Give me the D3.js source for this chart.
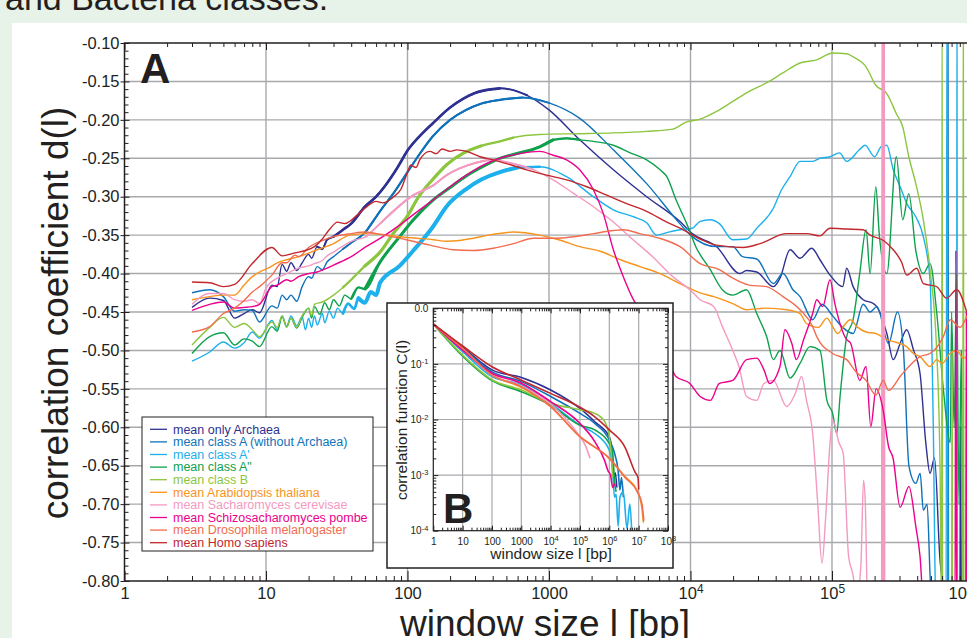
<!DOCTYPE html>
<html lang="en">
<head>
<meta charset="UTF-8">
<title>correlation coefficient d(l)</title>
<script src="https://d3js.org/d3.v7.min.js"></script>
<style>
  body { margin: 0; background: #e7f2e9; }
  svg { display: block; font-family: "Liberation Sans", Arial, Helvetica, sans-serif; }
</style>
</head>
<body>
<svg id="chart" width="967" height="638"></svg>
<script>
// ---- data ----
const windowTicks = [1, 10, 100, 1000, 1e4, 1e5, 1e6];
const dTicks = [-0.10, -0.15, -0.20, -0.25, -0.30, -0.35, -0.40, -0.45, -0.50, -0.55, -0.60, -0.65, -0.70, -0.75, -0.80];
const insetXTicks = [1, 10, 100, 1000, 1e4, 1e5, 1e6, 1e7, 1e8];
const insetYTicks = [1e-4, 1e-3, 1e-2, 1e-1, 1];

const legendLabels = [
  'mean only Archaea', 'mean class A (without Archaea)', "mean class A'", 'mean class A"', 'mean class B',
  'mean Arabidopsis thaliana', 'mean Sacharomyces cerevisae', 'mean Schizosacharomyces pombe',
  'mean Drosophila melanogaster', 'mean Homo sapiens'
];
const colors = ['#2e3192', '#0f72ba', '#1cb0ec', '#0ea14d', '#8cc63f', '#f7941d', '#f49ac1', '#ec008c', '#f26d50', '#c1272d'];

// panel A: d(l) per window size l
const dArchaea = [[3,-0.444],[4,-0.432],[5,-0.435],[6,-0.458],[7,-0.452],[8,-0.447],[9,-0.451],[11,-0.415],[12,-0.417],[13,-0.388],[14,-0.397],[15,-0.386],[16.5,-0.396],[18,-0.386],[20,-0.375],[21,-0.38],[23,-0.365],[25,-0.368],[27,-0.356],[30,-0.352],[35,-0.343],[40,-0.335],[50,-0.313],[60,-0.300],[70,-0.285],[85,-0.262],[100,-0.240],[130,-0.216],[150,-0.205],[200,-0.184],[250,-0.172],[300,-0.165],[400,-0.160],[450,-0.159],[550,-0.161],[700,-0.168],[1000,-0.187],[1650,-0.226],[2850,-0.265],[4900,-0.300],[8400,-0.332],[10300,-0.348],[15300,-0.365],[22400,-0.400],[24900,-0.396],[29400,-0.398],[38500,-0.417],[42900,-0.406],[50500,-0.369],[59400,-0.380],[71900,-0.367],[82200,-0.382],[96800,-0.402],[119000,-0.417],[127000,-0.393],[141000,-0.417],[166000,-0.434],[196000,-0.439],[207000,-0.443],[244000,-0.478],[271000,-0.512],[303000,-0.491],[337000,-0.473],[376000,-0.499],[419000,-0.530],[460000,-0.620],[493000,-0.660],[530000,-0.640],[580000,-0.773],[640000,-0.820],[800000,-0.850],[810000,-0.600],[820000,-0.850]];
const dClassA = [[3,-0.425],[4,-0.421],[5,-0.430],[6,-0.449],[7,-0.447],[8,-0.448],[9,-0.463],[11,-0.442],[12,-0.445],[13,-0.428],[14,-0.434],[15,-0.428],[16.5,-0.436],[18,-0.417],[20,-0.404],[21,-0.406],[23,-0.391],[25,-0.395],[27,-0.385],[30,-0.378],[35,-0.368],[40,-0.360],[50,-0.347],[65,-0.317],[80,-0.295],[100,-0.268],[130,-0.237],[150,-0.222],[200,-0.200],[260,-0.187],[330,-0.179],[450,-0.174],[650,-0.171],[1000,-0.178],[1650,-0.198],[2850,-0.239],[4900,-0.283],[8400,-0.335],[10000,-0.350],[15300,-0.365],[19900,-0.365],[23300,-0.378],[29400,-0.381],[38500,-0.413],[45000,-0.400],[53000,-0.421],[59400,-0.430],[73000,-0.460],[85000,-0.440],[101000,-0.455],[119000,-0.470],[141000,-0.478],[166000,-0.440],[186000,-0.450],[208000,-0.443],[251000,-0.491],[290000,-0.450],[320000,-0.500],[350000,-0.651],[391000,-0.673],[420000,-0.660],[442000,-0.708],[470000,-0.700],[500000,-0.810],[655000,-0.850],[660000,0],[666000,-0.850]];
const dClassA1 = [[3,-0.514],[4,-0.502],[5,-0.489],[6,-0.497],[7,-0.490],[8,-0.476],[9,-0.484],[11,-0.461],[12,-0.473],[13,-0.455],[14,-0.469],[15,-0.455],[16.5,-0.468],[18,-0.456],[19,-0.473],[20,-0.458],[21,-0.470],[22,-0.455],[23,-0.467],[25,-0.452],[26,-0.464],[28,-0.449],[30,-0.458],[32,-0.445],[35,-0.452],[38,-0.439],[42,-0.446],[45,-0.432],[50,-0.438],[55,-0.424],[60,-0.428],[64,-0.412],[88,-0.390],[110,-0.370],[150,-0.340],[190,-0.312],[260,-0.290],[330,-0.278],[450,-0.268],[600,-0.262],[860,-0.261],[1330,-0.274],[2060,-0.300],[2850,-0.317],[3930,-0.326],[4900,-0.334],[5780,-0.350],[7000,-0.346],[8430,-0.343],[10300,-0.341],[11700,-0.332],[13800,-0.330],[16000,-0.335],[19900,-0.356],[24900,-0.355],[29400,-0.341],[38500,-0.315],[44000,-0.291],[50500,-0.274],[59400,-0.254],[73000,-0.254],[82200,-0.250],[96800,-0.248],[113000,-0.243],[127000,-0.254],[156000,-0.239],[171000,-0.233],[200000,-0.248],[222000,-0.235],[244000,-0.233],[271000,-0.265],[303000,-0.287],[340000,-0.310],[391000,-0.326],[442000,-0.352],[493000,-0.408],[520000,-0.600],[540000,-0.820],[640000,-0.850],[650000,0],[660000,-0.850],[760000,-0.850],[764000,0],[770000,-0.850]];
const dClassA2 = [[3,-0.504],[4,-0.482],[5,-0.477],[6,-0.493],[7,-0.485],[8,-0.488],[9,-0.495],[11,-0.469],[12,-0.475],[13,-0.456],[14,-0.469],[15,-0.458],[16.5,-0.471],[18,-0.457],[20,-0.445],[21,-0.458],[22,-0.443],[24,-0.453],[26,-0.438],[28,-0.447],[30,-0.434],[33,-0.442],[36,-0.428],[40,-0.433],[45,-0.418],[50,-0.420],[64,-0.385],[88,-0.352],[110,-0.330],[150,-0.305],[200,-0.288],[260,-0.273],[330,-0.262],[450,-0.250],[560,-0.245],[860,-0.235],[1070,-0.226],[1330,-0.224],[1650,-0.226],[2060,-0.228],[2850,-0.233],[3750,-0.243],[4900,-0.252],[6100,-0.265],[6800,-0.274],[7900,-0.304],[9400,-0.335],[10900,-0.365],[13800,-0.395],[16800,-0.421],[19900,-0.428],[24900,-0.421],[29400,-0.452],[34500,-0.482],[38500,-0.512],[42900,-0.500],[50500,-0.536],[59400,-0.517],[69900,-0.495],[82200,-0.500],[92000,-0.565],[101000,-0.582],[108000,-0.608],[114000,-0.560],[127000,-0.482],[141000,-0.460],[157000,-0.400],[174000,-0.343],[186000,-0.400],[204000,-0.287],[216000,-0.350],[244000,-0.400],[285000,-0.248],[316000,-0.330],[349000,-0.296],[391000,-0.370],[442000,-0.400],[493000,-0.387],[549000,-0.450],[612000,-0.550],[686000,-0.620],[700000,-0.450],[730000,-0.600],[760000,-0.400],[790000,-0.700],[820000,-0.500],[850000,-0.820]];
const dClassB = [[3,-0.493],[4,-0.470],[5,-0.457],[6,-0.470],[7,-0.465],[8,-0.473],[9,-0.482],[11,-0.463],[12,-0.470],[13,-0.455],[14,-0.470],[15,-0.458],[16.5,-0.470],[18,-0.455],[20,-0.445],[21,-0.455],[22,-0.440],[25,-0.437],[30,-0.428],[35,-0.418],[40,-0.408],[50,-0.390],[64,-0.372],[80,-0.347],[100,-0.325],[120,-0.300],[150,-0.278],[190,-0.258],[250,-0.243],[330,-0.234],[450,-0.228],[560,-0.223],[860,-0.219],[1650,-0.218],[2850,-0.217],[4900,-0.215],[7500,-0.212],[9300,-0.203],[11700,-0.199],[15300,-0.189],[19900,-0.176],[26000,-0.163],[34400,-0.152],[45000,-0.139],[59400,-0.126],[78000,-0.122],[101000,-0.113],[127000,-0.114],[141000,-0.118],[174000,-0.131],[204000,-0.155],[244000,-0.166],[285000,-0.192],[316000,-0.209],[349000,-0.248],[391000,-0.283],[442000,-0.330],[493000,-0.395],[549000,-0.500],[580000,-0.650],[596000,-0.850],[600000,0],[604000,-0.850],[700000,-0.850],[706000,-0.500],[712000,-0.850],[840000,-0.850],[847000,0],[855000,-0.850]];
const dArabidopsis = [[3,-0.434],[4,-0.430],[5,-0.428],[6,-0.428],[7,-0.415],[8,-0.404],[9,-0.398],[10.6,-0.392],[12,-0.386],[14,-0.382],[17,-0.378],[23,-0.369],[30,-0.361],[39,-0.350],[51,-0.348],[67,-0.349],[88,-0.352],[116,-0.354],[152,-0.356],[189,-0.358],[233,-0.357],[292,-0.354],[400,-0.349],[560,-0.346],[860,-0.350],[1170,-0.356],[1650,-0.365],[2300,-0.371],[3200,-0.382],[4400,-0.391],[6100,-0.400],[8400,-0.413],[11700,-0.425],[14600,-0.430],[19900,-0.439],[24900,-0.447],[34400,-0.445],[48000,-0.447],[59400,-0.452],[66000,-0.465],[80000,-0.470],[92000,-0.458],[101000,-0.469],[110000,-0.478],[119000,-0.470],[135000,-0.460],[150000,-0.469],[174000,-0.476],[204000,-0.478],[244000,-0.486],[290000,-0.490],[337000,-0.495],[376000,-0.504],[419000,-0.508],[493000,-0.521],[549000,-0.512],[600000,-0.517],[680000,-0.504],[760000,-0.500],[850000,-0.510],[950000,-0.505]];
const dCerevisiae = [[3,-0.440],[4,-0.426],[5,-0.426],[6,-0.434],[7,-0.436],[8,-0.434],[9,-0.439],[10,-0.419],[12,-0.406],[14,-0.400],[17,-0.393],[20,-0.390],[22,-0.387],[25,-0.383],[27,-0.377],[30,-0.372],[33,-0.367],[40,-0.358],[51,-0.352],[64,-0.335],[110,-0.298],[150,-0.286],[189,-0.272],[290,-0.257],[390,-0.252],[560,-0.257],[780,-0.265],[1070,-0.278],[1500,-0.296],[2060,-0.313],[2850,-0.333],[3930,-0.356],[5400,-0.378],[7500,-0.404],[9900,-0.421],[11700,-0.434],[14600,-0.443],[16800,-0.469],[19900,-0.500],[22000,-0.521],[24900,-0.560],[29400,-0.565],[33000,-0.543],[38500,-0.539],[47900,-0.573],[55000,-0.556],[61000,-0.534],[66000,-0.565],[73000,-0.608],[79000,-0.695],[85000,-0.777],[90000,-0.720],[96800,-0.621],[101000,-0.590],[112000,-0.620],[120000,-0.634],[131000,-0.768],[140000,-0.790],[150000,-0.820],[160000,-0.780],[167000,-0.669],[172000,-0.700],[178000,-0.820],[224000,-0.850],[226000,0],[228000,-0.850],[230000,0],[232000,-0.850],[234000,0],[236000,-0.850]];
const dPombe = [[3,-0.448],[4,-0.440],[5,-0.437],[6,-0.445],[7,-0.444],[8,-0.443],[9,-0.440],[11,-0.417],[12,-0.415],[14,-0.408],[15,-0.410],[17,-0.404],[20,-0.400],[23,-0.398],[27,-0.393],[30,-0.389],[40,-0.378],[51,-0.365],[67,-0.352],[88,-0.337],[116,-0.320],[152,-0.304],[200,-0.287],[261,-0.272],[343,-0.259],[450,-0.250],[620,-0.244],[860,-0.241],[1070,-0.246],[1330,-0.252],[1650,-0.265],[2060,-0.291],[2420,-0.322],[2850,-0.369],[3350,-0.404],[3900,-0.432],[4400,-0.450],[4900,-0.478],[5800,-0.504],[6800,-0.512],[7900,-0.534],[9900,-0.543],[11700,-0.560],[13800,-0.565],[16000,-0.543],[19900,-0.539],[24900,-0.512],[29400,-0.510],[33000,-0.525],[36200,-0.543],[42900,-0.521],[46500,-0.473],[52000,-0.491],[56000,-0.512],[63000,-0.486],[73000,-0.452],[78000,-0.434],[86000,-0.443],[96800,-0.408],[105000,-0.440],[127000,-0.486],[135000,-0.490],[157000,-0.539],[174000,-0.521],[188000,-0.599],[205000,-0.550],[230000,-0.578],[251000,-0.625],[270000,-0.640],[303000,-0.704],[350000,-0.677],[391000,-0.729],[419000,-0.768],[440000,-0.820],[740000,-0.850],[750000,-0.370],[760000,-0.850],[880000,-0.850],[890000,-0.450],[900000,-0.850]];
const dDrosophila = [[3,-0.476],[4,-0.469],[5,-0.452],[6,-0.445],[7,-0.435],[8,-0.424],[9,-0.417],[11,-0.402],[13,-0.386],[14,-0.386],[16,-0.376],[17,-0.378],[20,-0.366],[25,-0.357],[30,-0.352],[40,-0.348],[50,-0.346],[60,-0.348],[98,-0.356],[144,-0.363],[210,-0.369],[292,-0.370],[404,-0.367],[560,-0.361],[780,-0.354],[1070,-0.354],[1490,-0.352],[2060,-0.348],[2850,-0.344],[3360,-0.343],[4370,-0.348],[6040,-0.354],[8430,-0.365],[11700,-0.387],[16000,-0.395],[19900,-0.406],[26000,-0.415],[34400,-0.417],[45000,-0.430],[59400,-0.447],[73000,-0.469],[78000,-0.482],[101000,-0.504],[127000,-0.512],[148000,-0.528],[174000,-0.539],[204000,-0.558],[230000,-0.539],[251000,-0.552],[303000,-0.534],[349000,-0.521],[419000,-0.508],[493000,-0.504],[612000,-0.482],[686000,-0.460],[803000,-0.470],[900000,-0.455]];
const dHomo = [[3,-0.411],[4,-0.412],[5,-0.417],[6,-0.414],[8,-0.387],[11,-0.366],[13,-0.377],[16,-0.373],[19,-0.370],[22,-0.365],[25,-0.355],[28,-0.343],[32,-0.333],[36,-0.335],[44,-0.324],[50,-0.315],[60,-0.306],[67,-0.308],[80,-0.300],[90,-0.290],[100,-0.268],[105,-0.259],[115,-0.262],[122,-0.252],[144,-0.241],[160,-0.244],[175,-0.238],[200,-0.241],[223,-0.239],[262,-0.241],[325,-0.248],[404,-0.252],[502,-0.257],[696,-0.265],[963,-0.272],[1334,-0.278],[1850,-0.287],[2560,-0.298],[3540,-0.309],[4900,-0.319],[6790,-0.333],[8430,-0.341],[11700,-0.355],[15300,-0.363],[23600,-0.366],[31000,-0.361],[47900,-0.348],[66200,-0.348],[82200,-0.351],[96700,-0.341],[127000,-0.342],[166000,-0.343],[186000,-0.350],[231000,-0.357],[271000,-0.369],[310000,-0.385],[337000,-0.402],[397000,-0.393],[442000,-0.413],[549000,-0.417],[646000,-0.432],[761000,-0.421],[895000,-0.450]];

// panel B: correlation function C(l)
const cArchaea = [[1,0.52],[10,0.20],[100,0.078],[1000,0.057],[1e4,0.034],[1e5,0.0158],[3.2e5,0.0091],[1e6,0.0049],[1.2e6,0.003],[1.4e6,0.0009],[1.6e6,0.0011],[1.8e6,0.0006]];
const cClassA = [[1,0.52],[10,0.19],[100,0.072],[1000,0.048],[1e4,0.026],[1e5,0.0129],[3.2e5,0.0085],[1e6,0.0043],[1.5e6,0.0025],[2e6,0.0012],[2.3e6,0.00054],[2.6e6,0.0009],[3e6,0.0004]];
const cClassA1 = [[1,0.52],[10,0.166],[100,0.059],[1000,0.042],[1e4,0.0195],[1e5,0.0079],[3.2e5,0.0056],[1e6,0.0028],[1.3e6,0.0012],[1.5e6,0.0004],[1.7e6,0.00045],[2e6,0.00012],[2.3e6,0.0004],[3e6,0.0005],[4e6,0.00011],[5e6,0.0003],[5.8e6,0.0001]];
const cClassA2 = [[1,0.52],[10,0.138],[100,0.050],[1000,0.0316],[1e4,0.018],[1e5,0.0079],[3.2e5,0.0065],[1e6,0.0037],[1.3e6,0.0025],[1.5e6,0.0008],[1.7e6,0.0005]];
const cClassB = [[1,0.52],[10,0.144],[100,0.052],[1000,0.034],[1e4,0.0195],[1e5,0.015],[3.2e5,0.0129],[7e5,0.0091],[1e6,0.0049],[1.2e6,0.002],[1.3e6,0.0009]];
const cArabidopsis = [[1,0.52],[10,0.19],[100,0.063],[1000,0.038],[1e4,0.017],[1e5,0.0049],[1e6,0.002],[3.5e6,0.00093],[8.7e6,0.00054],[1.3e7,0.00025],[1.45e7,0.00014]];
const cCerevisiae = [[1,0.52],[10,0.18],[100,0.063],[1000,0.040],[1e4,0.019],[1e5,0.0049],[1.5e5,0.0035],[2.2e5,0.002]];
const cPombe = [[1,0.52],[10,0.177],[100,0.068],[1000,0.045],[1e4,0.021],[1e5,0.0085],[3.2e5,0.004],[7e5,0.0018],[9e5,0.0012],[1.1e6,0.001],[1.3e6,0.0006],[1.5e6,0.0007]];
const cDrosophila = [[1,0.52],[10,0.19],[100,0.063],[1000,0.039],[1e4,0.017],[1e5,0.0049],[1e6,0.002],[3.5e6,0.0009],[9e6,0.0005],[1.3e7,0.0003],[1.5e7,0.00015]];
const cHomo = [[1,0.52],[10,0.21],[100,0.089],[1000,0.051],[1e4,0.0295],[1e5,0.0166],[3.2e5,0.0112],[1e6,0.0065],[3.4e6,0.0032],[7.4e6,0.00115],[9.5e6,0.0009],[1e7,0.00055]];

const dSeries = [dArchaea, dClassA, dClassA1, dClassA2, dClassB, dArabidopsis, dCerevisiae, dPombe, dDrosophila, dHomo];
const cSeries = [cArchaea, cClassA, cClassA1, cClassA2, cClassB, cArabidopsis, cCerevisiae, cPombe, cDrosophila, cHomo];

// the fast zigzag parts look like thick bands in the original: [from, to, width]
const bands = [[30, 450, 2.6], [45, 700, 2.1], [45, 800, 4], [50, 1200, 3], [45, 400, 3.2], null, [60, 500, 2], null, null, null];

const ink = '#231f20';
const gridColor = '#a7a9ac';
const svg = d3.select('#chart');

svg.append('rect').attr('width', 967).attr('height', 638).attr('fill', '#e7f2e9');
svg.append('rect').attr('x', 12).attr('y', 23).attr('width', 955).attr('height', 615).attr('fill', '#fff');
svg.append('text').attr('x', 5).attr('y', 10).attr('font-size', 34).attr('fill', ink).text('and Bacteria classes.');

// ---- panel A ----
const x = d3.scaleLog().domain([1, 1e6]).range([124.5, 973.5]);
const y = d3.scaleLinear().domain([-0.10, -0.80]).range([43, 581]);

const grid = svg.append('g').attr('stroke', gridColor).attr('stroke-width', 1.4);
grid.selectAll('.gx').data(windowTicks.slice(1)).join('line').attr('class', 'gx')
  .attr('x1', d => x(d)).attr('x2', d => x(d)).attr('y1', y(-0.10)).attr('y2', y(-0.80));
grid.selectAll('.gy').data(dTicks.slice(1, -1)).join('line').attr('class', 'gy')
  .attr('x1', x(1)).attr('x2', x(1e6)).attr('y1', d => y(d)).attr('y2', d => y(d));

svg.append('clipPath').attr('id', 'clipA').append('rect')
  .attr('x', x(1)).attr('y', y(-0.10)).attr('width', x(1e6) - x(1)).attr('height', y(-0.80) - y(-0.10));

const line = d3.line().x(d => x(d[0])).y(d => y(d[1])).curve(d3.curveMonotoneX);
const plot = svg.append('g').attr('clip-path', 'url(#clipA)').attr('fill', 'none').attr('stroke-linejoin', 'round');
dSeries.forEach((s, i) => {
  plot.append('path').attr('d', line(s)).attr('stroke', colors[i]).attr('stroke-width', 1.4);
  if (bands[i]) {
    const [lo, hi, w] = bands[i];
    // wider, softer outer part then the full-width core
    plot.append('path').attr('d', line(s.filter(d => d[0] >= lo * 0.75 && d[0] <= hi * 1.6)))
      .attr('stroke', colors[i]).attr('stroke-width', (w + 1.4) / 2).attr('stroke-linecap', 'round');
    plot.append('path').attr('d', line(s.filter(d => d[0] >= lo && d[0] <= hi)))
      .attr('stroke', colors[i]).attr('stroke-width', w).attr('stroke-linecap', 'round');
  }
});

const minorY = d3.range(10, 81).filter(i => i % 5 !== 0).map(i => -i / 100);
const minorX = [];
for (let e = 0; e < 6; e++) for (let k = 2; k < 10; k++) minorX.push(k * Math.pow(10, e));

function tidy(g, size) {
  g.select('.domain').remove();
  g.selectAll('.tick line').attr('stroke', ink).attr('stroke-width', 1);
  g.attr('font-size', size).attr('font-family', null).selectAll('text').attr('fill', ink);
}

svg.append('g').attr('transform', `translate(${x(1)},0)`)
  .call(d3.axisLeft(y).tickValues(dTicks).tickFormat(d => d.toFixed(2)).tickSize(-5).tickPadding(5))
  .call(g => tidy(g, 16.5));
svg.append('g').attr('transform', `translate(${x(1)},0)`)
  .call(d3.axisLeft(y).tickValues(dTicks).tickFormat('').tickSize(4)).call(g => tidy(g, 10));
svg.append('g').attr('transform', `translate(${x(1)},0)`)
  .call(d3.axisLeft(y).tickValues(minorY).tickFormat('').tickSize(-4)).call(g => tidy(g, 10));

const gx = svg.append('g').attr('transform', `translate(0,${y(-0.80)})`)
  .call(d3.axisBottom(x).tickValues(windowTicks).tickSize(-10).tickPadding(6)
    .tickFormat(d => d >= 1e4 ? '10' : String(d)))
  .call(g => tidy(g, 16.5));
gx.selectAll('.tick text').each(function(d) {
  if (d >= 1e4) d3.select(this).append('tspan').attr('dy', '-0.45em').attr('font-size', '0.72em').text(Math.round(Math.log10(d)));
  if (d === 1e6) d3.select(this).attr('dx', -13);
});
svg.append('g').attr('transform', `translate(0,${y(-0.80)})`)
  .call(d3.axisBottom(x).tickValues(minorX).tickFormat('').tickSize(-5)).call(g => tidy(g, 10));
svg.append('g').attr('transform', `translate(0,${y(-0.10)})`)
  .call(d3.axisTop(x).tickValues(windowTicks).tickFormat('').tickSize(-7)).call(g => tidy(g, 10));
svg.append('g').attr('transform', `translate(0,${y(-0.10)})`)
  .call(d3.axisTop(x).tickValues(minorX).tickFormat('').tickSize(-4)).call(g => tidy(g, 10));

svg.append('rect').attr('x', x(1)).attr('y', y(-0.10)).attr('width', x(1e6) - x(1)).attr('height', y(-0.80) - y(-0.10))
  .attr('fill', 'none').attr('stroke', ink).attr('stroke-width', 1.5);

svg.append('text').attr('x', 140).attr('y', 83).attr('font-size', 42).attr('font-weight', 'bold').attr('fill', ink).text('A');

svg.append('text').attr('transform', 'translate(68,313) rotate(-90)').attr('text-anchor', 'middle')
  .attr('font-size', 37).attr('fill', ink).text('correlation coefficient d(l)');
svg.append('text').attr('x', 545).attr('y', 636).attr('text-anchor', 'middle')
  .attr('font-size', 37).attr('fill', ink).text('window size l [bp]');

// legend
const legend = svg.append('g');
legend.append('rect').attr('x', 142).attr('y', 417).attr('width', 231).attr('height', 134)
  .attr('fill', '#fff').attr('stroke', ink).attr('stroke-width', 1);
const items = legend.selectAll('.item').data(legendLabels).join('g').attr('class', 'item')
  .attr('transform', (d, i) => `translate(0,${429.3 + i * 12.6})`);
items.append('line').attr('x1', 150).attr('x2', 167).attr('stroke', (d, i) => colors[i]).attr('stroke-width', 1.3);
items.append('text').attr('x', 173).attr('dy', '0.35em').attr('font-size', 12.5)
  .attr('fill', (d, i) => colors[i]).text(d => d);

// ---- panel B (inset) ----
const xi = d3.scaleLog().domain([1, 1e8]).range([433.3, 668]);
const yi = d3.scaleLog().domain([1e-4, 1]).range([530.7, 308.3]);

svg.append('rect').attr('x', 387).attr('y', 303).attr('width', 286).attr('height', 265)
  .attr('fill', '#fff').attr('stroke', ink).attr('stroke-width', 1.5);

const gridB = svg.append('g').attr('stroke', gridColor).attr('stroke-width', 1.2);
gridB.selectAll('.gx').data(insetXTicks.slice(1, -1)).join('line').attr('class', 'gx')
  .attr('x1', d => xi(d)).attr('x2', d => xi(d)).attr('y1', yi(1)).attr('y2', yi(1e-4));
gridB.selectAll('.gy').data(insetYTicks.slice(1, -1)).join('line').attr('class', 'gy')
  .attr('x1', xi(1)).attr('x2', xi(1e8)).attr('y1', d => yi(d)).attr('y2', d => yi(d));

svg.append('clipPath').attr('id', 'clipB').append('rect')
  .attr('x', xi(1)).attr('y', yi(1)).attr('width', xi(1e8) - xi(1)).attr('height', yi(1e-4) - yi(1));
const lineB = d3.line().x(d => xi(d[0])).y(d => yi(d[1])).curve(d3.curveMonotoneX);
const plotB = svg.append('g').attr('clip-path', 'url(#clipB)').attr('fill', 'none').attr('stroke-linejoin', 'round');
cSeries.forEach((s, i) => {
  plotB.append('path').attr('d', lineB(s)).attr('stroke', colors[i]).attr('stroke-width', 1.6);
});

const minorXi = [], minorYi = [];
for (let e = 0; e < 8; e++) for (let k = 2; k < 10; k++) minorXi.push(k * Math.pow(10, e));
for (let e = -4; e < 0; e++) for (let k = 2; k < 10; k++) minorYi.push(k * Math.pow(10, e));

const gxi = svg.append('g').attr('transform', `translate(0,${yi(1e-4)})`)
  .call(d3.axisBottom(xi).tickValues(insetXTicks).tickSize(-5).tickPadding(7)
    .tickFormat(d => d >= 1e4 ? '10' : String(d)))
  .call(g => tidy(g, 10));
gxi.selectAll('.tick text').each(function(d) {
  if (d >= 1e4) d3.select(this).append('tspan').attr('dy', '-0.45em').attr('font-size', '0.75em').text(Math.round(Math.log10(d)));
});
const gyi = svg.append('g').attr('transform', `translate(${xi(1)},0)`)
  .call(d3.axisLeft(yi).tickValues(insetYTicks).tickSize(-5).tickPadding(5)
    .tickFormat(d => d === 1 ? '0.0' : '10'))
  .call(g => tidy(g, 10));
gyi.selectAll('.tick text').each(function(d) {
  if (d < 1) d3.select(this).append('tspan').attr('dy', '-0.45em').attr('font-size', '0.75em').text(Math.round(Math.log10(d)));
});
svg.append('g').attr('transform', `translate(0,${yi(1e-4)})`)
  .call(d3.axisBottom(xi).tickValues(minorXi).tickFormat('').tickSize(-3)).call(g => tidy(g, 10));
svg.append('g').attr('transform', `translate(0,${yi(1)})`)
  .call(d3.axisTop(xi).tickValues(minorXi).tickFormat('').tickSize(-3)).call(g => tidy(g, 10));
svg.append('g').attr('transform', `translate(0,${yi(1)})`)
  .call(d3.axisTop(xi).tickValues(insetXTicks).tickFormat('').tickSize(-5)).call(g => tidy(g, 10));
svg.append('g').attr('transform', `translate(${xi(1)},0)`)
  .call(d3.axisLeft(yi).tickValues(minorYi).tickFormat('').tickSize(-3)).call(g => tidy(g, 10));
svg.append('g').attr('transform', `translate(${xi(1e8)},0)`)
  .call(d3.axisRight(yi).tickValues(minorYi).tickFormat('').tickSize(-3)).call(g => tidy(g, 10));
svg.append('g').attr('transform', `translate(${xi(1e8)},0)`)
  .call(d3.axisRight(yi).tickValues(insetYTicks).tickFormat('').tickSize(-5)).call(g => tidy(g, 10));

svg.append('rect').attr('x', xi(1)).attr('y', yi(1)).attr('width', xi(1e8) - xi(1)).attr('height', yi(1e-4) - yi(1))
  .attr('fill', 'none').attr('stroke', ink).attr('stroke-width', 1.2);

svg.append('text').attr('x', 443).attr('y', 523).attr('font-size', 42).attr('font-weight', 'bold').attr('fill', ink).text('B');
svg.append('text').attr('x', 551).attr('y', 559).attr('text-anchor', 'middle')
  .attr('font-size', 15.5).attr('fill', ink).text('window size l [bp]');
svg.append('text').attr('transform', 'translate(407,420) rotate(-90)').attr('text-anchor', 'middle')
  .attr('font-size', 15.5).attr('fill', ink).text('correlation function C(l)');
</script>
</body>
</html>
